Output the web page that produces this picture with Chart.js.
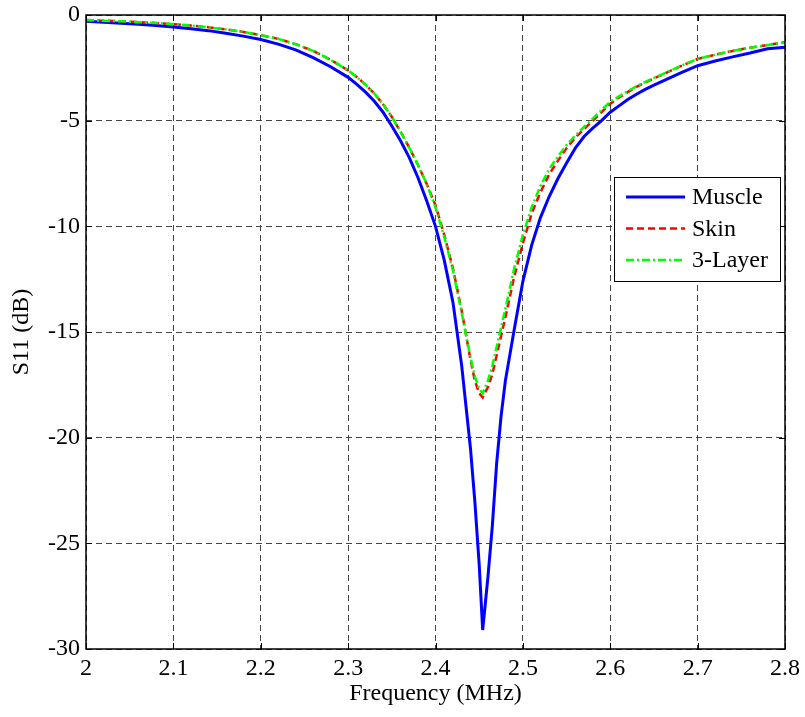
<!DOCTYPE html>
<html>
<head>
<meta charset="utf-8">
<title>S11</title>
<script src="https://cdn.jsdelivr.net/npm/chart.js@4/dist/chart.umd.min.js"></script>
<style>
  html, body { margin: 0; padding: 0; background: #fff; }
  canvas { display: block; }
</style>
</head>
<body>
<canvas id="s11" width="805" height="717"></canvas>
<script>
// sweep points, denser round the resonance
const freq = [2.00, 2.02, 2.04, 2.06, 2.08, 2.10, 2.12, 2.14, 2.16, 2.18, 2.20, 2.22, 2.24, 2.26, 2.28, 2.30,
              2.31, 2.32, 2.33, 2.34, 2.35, 2.36, 2.37, 2.38, 2.39, 2.40, 2.41, 2.42, 2.43, 2.44,
              2.445, 2.45, 2.454, 2.46, 2.465, 2.47, 2.475, 2.48,
              2.49, 2.50, 2.51, 2.52, 2.53, 2.54, 2.55, 2.56, 2.57, 2.58, 2.59, 2.60, 2.61, 2.62, 2.63, 2.64, 2.65, 2.66,
              2.68, 2.70, 2.72, 2.74, 2.76, 2.78, 2.80]

const muscle = [-0.30, -0.34, -0.39, -0.44, -0.50, -0.57, -0.65, -0.74, -0.86, -1.00, -1.16, -1.38, -1.65, -2.02, -2.45, -2.95,
                -3.28, -3.65, -4.08, -4.60, -5.25, -5.95, -6.75, -7.70, -8.80, -10.0, -11.6, -13.6, -16.6, -20.5,
                -23.0, -26.0, -29.1, -26.6, -24.2, -21.2, -19.0, -17.3,
                -14.9, -12.6, -10.9, -9.6, -8.6, -7.75, -7.0, -6.3, -5.75, -5.35, -5.0, -4.6, -4.3, -4.0, -3.75, -3.52, -3.32, -3.13,
                -2.75, -2.40, -2.18, -1.98, -1.80, -1.60, -1.52]

const skin = [-0.24, -0.27, -0.30, -0.34, -0.38, -0.43, -0.50, -0.58, -0.68, -0.80, -0.95, -1.13, -1.38, -1.70, -2.12, -2.62,
              -2.94, -3.30, -3.72, -4.22, -4.82, -5.52, -6.28, -7.10, -8.00, -9.0, -10.4, -12.0, -14.0, -16.3,
              -17.3, -17.9, -18.1, -17.6, -17.0, -16.1, -15.2, -14.3,
              -12.4, -10.8, -9.4, -8.4, -7.55, -6.9, -6.3, -5.8, -5.4, -5.0, -4.6, -4.2, -3.9, -3.65, -3.4, -3.2, -3.0, -2.82,
              -2.43, -2.08, -1.88, -1.70, -1.55, -1.42, -1.28]

const layer3 = [-0.24, -0.27, -0.30, -0.34, -0.38, -0.43, -0.50, -0.58, -0.68, -0.80, -0.95, -1.13, -1.38, -1.70, -2.12, -2.62,
                -2.94, -3.30, -3.72, -4.22, -4.82, -5.52, -6.28, -7.10, -8.00, -9.1, -10.5, -12.1, -14.1, -16.2,
                -17.1, -17.7, -17.9, -17.3, -16.6, -15.7, -14.8, -13.9,
                -12.0, -10.4, -9.1, -8.1, -7.3, -6.7, -6.15, -5.7, -5.3, -4.9, -4.5, -4.1, -3.85, -3.6, -3.37, -3.17, -2.98, -2.8,
                -2.42, -2.08, -1.88, -1.70, -1.55, -1.42, -1.30]

const xTicks = { min: 2, max: 2.8, step: 0.1 }
const yTicks = { min: -30, max: 0, step: 5 }

const FONT = 'Liberation Serif, Times New Roman, serif'

function pts(ys){
  return freq.map((f, i) => ({ x: f, y: ys[i] }))
}

// box round the plot plus little inward ticks on every side
const framePlugin = {
  id: 'frame',
  afterDatasetsDraw(chart){
    const { ctx, chartArea: a, scales } = chart
    const len = 6
    ctx.save()
    ctx.strokeStyle = '#000'
    ctx.lineWidth = 1
    ctx.beginPath()
    scales.x.ticks.forEach(t => {
      const px = Math.round(scales.x.getPixelForValue(t.value)) + 0.5
      ctx.moveTo(px, a.bottom); ctx.lineTo(px, a.bottom - len)
      ctx.moveTo(px, a.top); ctx.lineTo(px, a.top + len)
    })
    scales.y.ticks.forEach(t => {
      const py = Math.round(scales.y.getPixelForValue(t.value)) + 0.5
      ctx.moveTo(a.left, py); ctx.lineTo(a.left + len, py)
      ctx.moveTo(a.right, py); ctx.lineTo(a.right - len, py)
    })
    ctx.stroke()
    ctx.lineWidth = 1.5
    ctx.strokeRect(a.left, a.top, a.right - a.left, a.bottom - a.top)
    ctx.restore()
  }
}

// matlab-ish legend box with line samples
const legendBox = {
  id: 'legendBox',
  afterDraw(chart){
    const { ctx, chartArea: a } = chart
    const w = 166, h = 104
    const x0 = a.right - 171, y0 = a.top + 162
    ctx.save()
    ctx.fillStyle = '#fff'
    ctx.fillRect(x0, y0, w, h)
    ctx.strokeStyle = '#000'
    ctx.lineWidth = 1
    ctx.strokeRect(x0 + 0.5, y0 + 0.5, w, h)
    ctx.font = '24px ' + FONT
    ctx.textBaseline = 'middle'
    ctx.textAlign = 'left'
    chart.data.datasets.forEach((ds, i) => {
      const y = y0 + 20 + i * 31.5
      ctx.beginPath()
      ctx.setLineDash(ds.borderDash || [])
      ctx.strokeStyle = ds.borderColor
      ctx.lineWidth = ds.borderWidth
      ctx.moveTo(x0 + 12, y)
      ctx.lineTo(x0 + 71, y)
      ctx.stroke()
      ctx.setLineDash([])
      ctx.fillStyle = '#000'
      ctx.fillText(ds.label, x0 + 78, y + 1)
    })
    ctx.restore()
  }
}

// keep the plot box where the layout padding puts it
function fixPad(s){
  s.paddingTop = 0
  s.paddingBottom = 0
  s.paddingLeft = 0
  s.paddingRight = 0
}

const ctx = document.getElementById('s11')

new Chart(ctx, {
  type: 'line',
  data: {
    datasets: [
      { label: 'Muscle', data: pts(muscle), borderColor: '#0000ff', borderWidth: 3, order: 2 },
      { label: 'Skin', data: pts(skin), borderColor: '#ff0000', borderWidth: 2.5, borderDash: [7, 4], order: 1 },
      { label: '3-Layer', data: pts(layer3), borderColor: '#00ff00', borderWidth: 2.5, borderDash: [8, 3, 2, 3], order: 0 }
    ]
  },
  options: {
    responsive: false,
    animation: false,
    parsing: false,
    elements: { point: { radius: 0 }, line: { tension: 0, fill: false } },
    layout: { padding: { top: 15, right: 20, left: 0, bottom: 0 } },
    plugins: { legend: { display: false }, tooltip: { enabled: false } },
    scales: {
      x: {
        type: 'linear',
        min: xTicks.min,
        max: xTicks.max,
        afterFit(s){ s.height = 68; fixPad(s) },
        ticks: {
          stepSize: xTicks.step,
          color: '#000',
          padding: 5,
          maxRotation: 0,
          font: { family: FONT, size: 24 },
          callback: v => String(Number(v.toFixed(1)))
        },
        grid: { color: '#444', lineWidth: 1, drawTicks: false },
        border: { display: false, dash: [6, 4] },
        title: {
          display: true,
          text: 'Frequency (MHz)',
          color: '#000',
          font: { family: FONT, size: 24 },
          padding: { top: 0, bottom: 9 }
        }
      },
      y: {
        type: 'linear',
        min: yTicks.min,
        max: yTicks.max,
        afterFit(s){ s.width = 86; fixPad(s) },
        ticks: {
          stepSize: yTicks.step,
          color: '#000',
          padding: 6,
          font: { family: FONT, size: 24 }
        },
        grid: { color: '#444', lineWidth: 1, drawTicks: false },
        border: { display: false, dash: [6, 4] },
        title: {
          display: true,
          text: 'S11 (dB)',
          color: '#000',
          font: { family: FONT, size: 24 },
          padding: { top: 7, bottom: 0 }
        }
      }
    }
  },
  plugins: [framePlugin, legendBox]
})
</script>
</body>
</html>
